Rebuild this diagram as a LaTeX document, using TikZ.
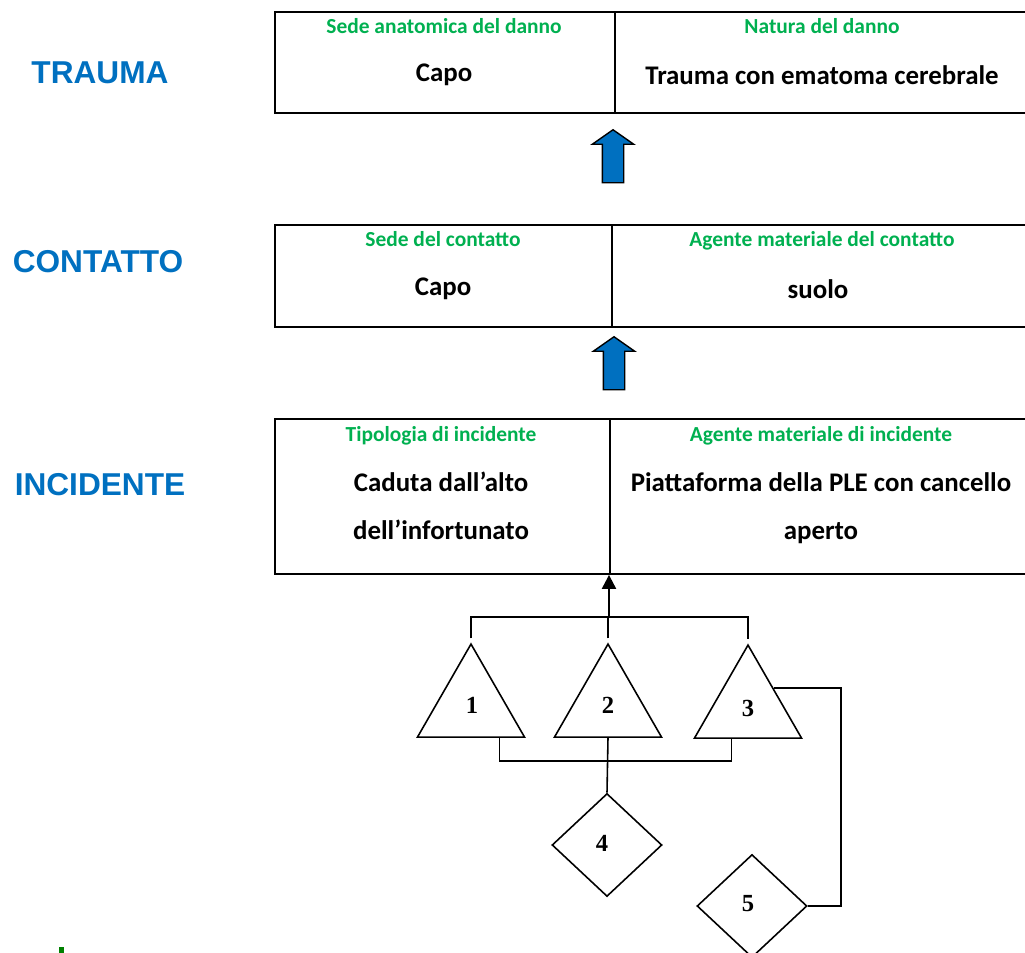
\documentclass[tikz,border=0pt]{standalone}
\usepackage{fontspec}
\setmainfont{Carlito}
\newfontfamily\arialfont{Liberation Sans}
\newfontfamily\timesfont{Liberation Serif}
\usetikzlibrary{shapes.geometric,shapes.arrows,arrows.meta,calc,positioning}
\definecolor{titleblue}{RGB}{0,112,192}
\definecolor{headgreen}{RGB}{0,176,80}

\begin{document}
\begin{tikzpicture}[x=0.02cm,y=-0.02cm]

\tikzset{
  cell/.style={draw, line width=1.1pt, rectangle, inner sep=0pt, anchor=north west},
  head/.style={text=headgreen, font=\bfseries\fontsize{12.2}{14}\selectfont,
    text height=1.6ex, text depth=0.5ex},
  body/.style={font=\bfseries\fontsize{15.3}{27}\selectfont, align=center},
  title/.style={text=titleblue, font=\arialfont\bfseries\fontsize{18}{20}\selectfont},
  tri/.style={draw, line width=0.9pt, isosceles triangle, isosceles triangle stretches,
    rotate=90, minimum width=2.14cm, minimum height=1.86cm, inner sep=0pt, anchor=apex},
  rhomb/.style={draw, line width=0.9pt, diamond, minimum width=2.2cm,
    minimum height=2.06cm, inner sep=0pt},
  num/.style={font=\timesfont\bfseries\fontsize{14}{16}\selectfont},
  bigarrow/.style={draw, fill=titleblue, line width=0.8pt, single arrow, rotate=90,
    minimum height=1.06cm, inner sep=0.2cm, single arrow head extend=0.2cm,
    single arrow tip angle=110}
}

\useasboundingbox (0,0) rectangle (1025,953);

% trauma
\node[title] (trauma) at (100,73) {TRAUMA};
\node[cell, minimum width=6.8cm, minimum height=2.02cm] (trauma-l) at (274,11) {};
\node[cell, minimum width=8.26cm, minimum height=2.02cm] (trauma-r) at (614,11) {};
\node[head] (trauma-lh) at (444,29) {Sede anatomica del danno};
\node[head] (trauma-rh) at (822,29) {Natura del danno};
\node[body] (trauma-lb) at (444,75) {Capo};
\node[body] (trauma-rb) at (822,75) {Trauma con ematoma cerebrale};

\node[bigarrow] (up1) at (613,160) {};

% contatto
\node[title] (contatto) at (98,262) {CONTATTO};
\node[cell, minimum width=6.74cm, minimum height=2.04cm] (cont-l) at (274,224) {};
\node[cell, minimum width=8.32cm, minimum height=2.04cm] (cont-r) at (611,224) {};
\node[head] (cont-lh) at (443,242) {Sede del contatto};
\node[head] (cont-rh) at (822,242) {Agente materiale del contatto};
\node[body] (cont-lb) at (443,289) {Capo};
\node[body] (cont-rb) at (818,289) {suolo};

\node[bigarrow] (up2) at (614,367) {};

% incidente
\node[title] (incidente) at (100,485) {INCIDENTE};
\node[cell, minimum width=6.7cm, minimum height=3.1cm] (inc-l) at (274,418) {};
\node[cell, minimum width=8.36cm, minimum height=3.1cm] (inc-r) at (609,418) {};
\node[head] (inc-lh) at (441,437) {Tipologia di incidente};
\node[head] (inc-rh) at (821,437) {Agente materiale di incidente};
\node[body] (inc-lb) at (441,506) {Caduta dall'alto\\dell'infortunato};
\node[body] (inc-rb) at (821,508) {Piattaforma della PLE con cancello\\aperto};

% albero
\node[tri] (t1) at (471,642) {};
\node[tri] (t2) at (608,642) {};
\node[tri] (t3) at (748,643) {};
\node[num] (n1) at (472,705) {1};
\node[num] (n2) at (608,705) {2};
\node[num] (n3) at (748,708) {3};
\node[rhomb] (d4) at (607,845) {};
\node[rhomb] (d5) at (752,906) {};
\node[num] (n4) at (602,843) {4};
\node[num] (n5) at (748,904) {5};

\coordinate (bus) at (609,617);
\draw[line width=0.9pt] ([yshift=2pt]t1.apex) |- (bus) -| ([yshift=2pt]t3.apex);
\draw[line width=0.9pt] ([yshift=2pt]t2.apex) -- (t2.apex |- bus);
\draw[-{Triangle[length=8pt,width=8pt]}, line width=1.2pt] (bus) -- (bus |- inc-l.south east);

\draw[line width=0.9pt] ($(t1.left corner)!0.76!(t1.right corner)$) -- ++(0,23)
   -| ($(t3.left corner)!0.35!(t3.right corner)$);
\draw[line width=0.9pt] ($(t2.left corner)!0.5!(t2.right corner)$) -- (d4.north);
\draw[line width=0.9pt] (d5.east) -- ++(33,0) |- ($(t3.apex)!0.47!(t3.right corner)$);

\fill[green!50!black] (59,947) rectangle (64,953);

\end{tikzpicture}
\end{document}
